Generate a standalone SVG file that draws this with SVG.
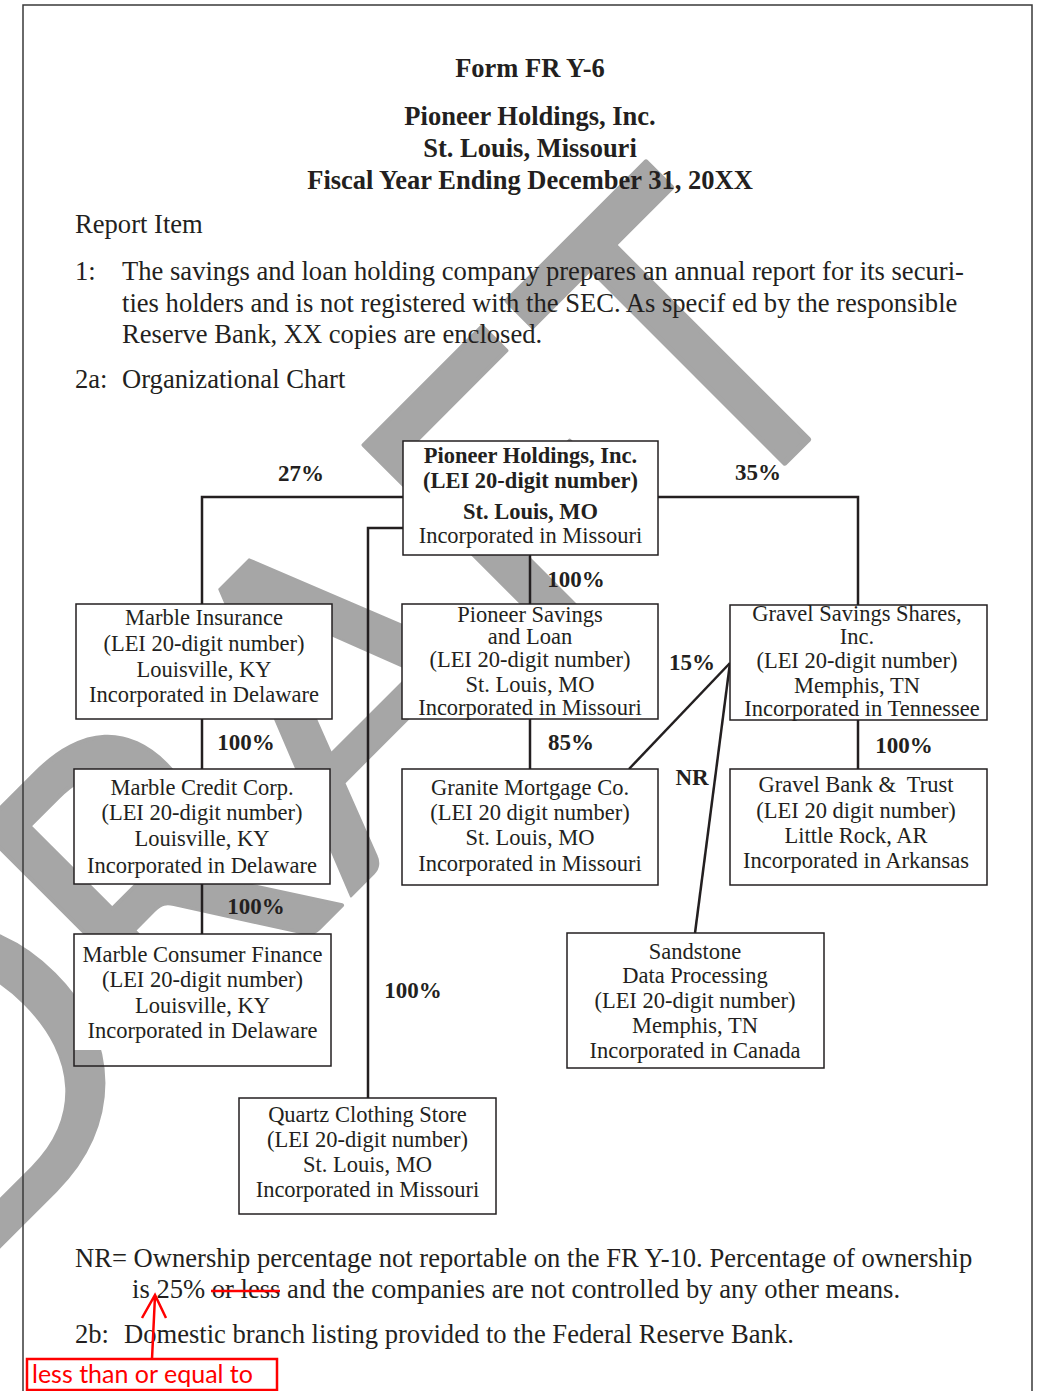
<svg xmlns="http://www.w3.org/2000/svg" width="1037" height="1391" viewBox="0 0 1037 1391">
<style>
.t{font-family:"Liberation Serif","Times New Roman",serif;fill:#231f20}
.h{font-size:26.5px;font-weight:bold;text-anchor:middle}
.b{font-size:26.6px}
.n{font-size:22.5px;text-anchor:middle}
.nb{font-weight:bold}
.lab{font-size:23px;font-weight:bold;text-anchor:middle}
.box{fill:#fff;stroke:#231f20;stroke-width:1.5}
.con{fill:none;stroke:#231f20;stroke-width:2.5}
.red{fill:none;stroke:#ff0000;stroke-width:2.5}
.wm{font-family:Lato,"Open Sans",sans-serif;font-size:433px;fill:#a6a6a6;stroke:#a6a6a6;stroke-width:2;stroke-linejoin:round}
</style>
<rect width="1037" height="1391" fill="#fff"/>
<g id="watermark">
<text class="wm" transform="rotate(-45)"><tspan x="-958" y="882">D</tspan><tspan x="-387" y="882">A</tspan></text>
<text class="wm" transform="rotate(-45) translate(-581,0) scale(0.88,1) translate(581,0)" style="stroke-width:4px"><tspan x="-642" y="882">R</tspan></text>
<text class="wm" transform="rotate(-45) translate(-39,0) scale(0.88,1) translate(39,0)" style="stroke-width:4px"><tspan x="-100" y="882">F</tspan></text>
<text class="wm" transform="rotate(-45) translate(245,0) scale(0.81,1) translate(-245,0)" style="stroke-width:6px"><tspan x="116" y="882">T</tspan></text>
</g>
<path id="frame" d="M23,1391 V5 H1032 V1391" fill="none" stroke="#3a3a3a" stroke-width="1.5"/>
<g id="header" class="t">
<text class="h" x="530" y="77">Form FR Y-6</text>
<text class="h" x="530" y="125">Pioneer Holdings, Inc.</text>
<text class="h" x="530" y="157">St. Louis, Missouri</text>
<text class="h" x="530" y="189">Fiscal Year Ending December 31, 20XX</text>
<text class="b" x="75" y="233">Report Item</text>
<text class="b" x="75" y="280">1:</text>
<text class="b" x="122" y="280">The savings and loan holding company prepares an annual report for its securi-</text>
<text class="b" x="122" y="312">ties holders and is not registered with the SEC. As specif ed by the responsible</text>
<text class="b" x="122" y="343">Reserve Bank, XX copies are enclosed.</text>
<text class="b" x="75" y="388">2a:</text>
<text class="b" x="122" y="388">Organizational Chart</text>
</g>
<g id="connectors" class="con">
<path d="M403,497 H202 V604"/>
<path d="M658,497 H858 V605"/>
<path d="M403,528 H368 V1098"/>
<path d="M530,555 V604"/>
<path d="M530,719 V769"/>
<path d="M202,719 V769"/>
<path d="M202,884 V934"/>
<path d="M858,720 V769"/>
<path d="M730,663 L629,769"/>
<path d="M730,663 L695,933"/>
</g>
<g id="labels" class="t lab">
<text x="301" y="481">27%</text>
<text x="758" y="480">35%</text>
<text x="576" y="587">100%</text>
<text x="246" y="750">100%</text>
<text x="256" y="914">100%</text>
<text x="413" y="998">100%</text>
<text x="571" y="750">85%</text>
<text x="692" y="670">15%</text>
<text x="692" y="785">NR</text>
<text x="904" y="753">100%</text>
</g>
<g id="n-pioneer-holdings">
<rect class="box" x="403" y="441" width="255" height="114"/>
<g class="t n"><text class="nb" x="530.5" y="463">Pioneer Holdings, Inc.</text><text class="nb" x="530.5" y="488">(LEI 20-digit number)</text><text class="nb" x="530.5" y="519">St. Louis, MO</text><text x="530.5" y="543">Incorporated in Missouri</text></g>
</g>
<g id="n-marble-insurance">
<rect class="box" x="76" y="604" width="256" height="115"/>
<g class="t n"><text x="204" y="625">Marble Insurance</text><text x="204" y="651">(LEI 20-digit number)</text><text x="204" y="676.5">Louisville, KY</text><text x="204" y="701.5">Incorporated in Delaware</text></g>
</g>
<g id="n-marble-credit">
<rect class="box" x="74" y="769" width="256" height="115"/>
<g class="t n"><text x="202" y="795">Marble Credit Corp.</text><text x="202" y="820">(LEI 20-digit number)</text><text x="202" y="845.5">Louisville, KY</text><text x="202" y="873">Incorporated in Delaware</text></g>
</g>
<g id="n-marble-consumer">
<rect x="74" y="934" width="257" height="116" fill="#fff"/>
<rect x="74" y="934" width="257" height="132" fill="none" stroke="#231f20" stroke-width="1.5"/>
<g class="t n"><text x="202.5" y="962">Marble Consumer Finance</text><text x="202.5" y="987">(LEI 20-digit number)</text><text x="202.5" y="1012.5">Louisville, KY</text><text x="202.5" y="1037.5">Incorporated in Delaware</text></g>
</g>
<g id="n-pioneer-savings">
<rect class="box" x="402" y="604" width="256" height="115"/>
<g class="t n"><text x="530" y="621.5">Pioneer Savings</text><text x="530" y="644">and Loan</text><text x="530" y="667">(LEI 20-digit number)</text><text x="530" y="691.5">St. Louis, MO</text><text x="530" y="715">Incorporated in Missouri</text></g>
</g>
<g id="n-granite">
<rect class="box" x="402" y="769" width="256" height="116"/>
<g class="t n"><text x="530" y="795">Granite Mortgage Co.</text><text x="530" y="819.5">(LEI 20 digit number)</text><text x="530" y="845">St. Louis, MO</text><text x="530" y="871">Incorporated in Missouri</text></g>
</g>
<g id="n-gravel-savings">
<rect class="box" x="730" y="605" width="257" height="115"/>
<g class="t n"><text x="857" y="621">Gravel Savings Shares,</text><text x="857" y="644">Inc.</text><text x="857" y="668">(LEI 20-digit number)</text><text x="857" y="692.5">Memphis, TN</text><text x="862" y="715.5">Incorporated in Tennessee</text></g>
</g>
<g id="n-gravel-bank">
<rect class="box" x="730" y="769" width="257" height="116"/>
<g class="t n"><text x="856" y="792" style="white-space:pre">Gravel Bank &amp;  Trust</text><text x="856" y="818">(LEI 20 digit number)</text><text x="856" y="843">Little Rock, AR</text><text x="856" y="868">Incorporated in Arkansas</text></g>
</g>
<g id="n-sandstone">
<rect class="box" x="567" y="933" width="257" height="135"/>
<g class="t n"><text x="695" y="959">Sandstone</text><text x="695" y="983">Data Processing</text><text x="695" y="1008">(LEI 20-digit number)</text><text x="695" y="1033">Memphis, TN</text><text x="695" y="1058">Incorporated in Canada</text></g>
</g>
<g id="n-quartz">
<rect class="box" x="239" y="1098" width="257" height="116"/>
<g class="t n"><text x="367.5" y="1122">Quartz Clothing Store</text><text x="367.5" y="1147">(LEI 20-digit number)</text><text x="367.5" y="1172">St. Louis, MO</text><text x="367.5" y="1197">Incorporated in Missouri</text></g>
</g>
<g id="footer" class="t b">
<text x="75" y="1267">NR= Ownership percentage not reportable on the FR Y-10. Percentage of ownership</text>
<text x="132" y="1298">is 25% or less and the companies are not controlled by any other means.</text>
<text x="75" y="1343">2b:</text>
<text x="124" y="1343">Domestic branch listing provided to the Federal Reserve Bank.</text>
</g>
<g id="annotation">
<path class="red" d="M211,1291 H280"/>
<path class="red" stroke-width="2" d="M152,1359 L155,1296 M142,1318 L155,1295 L166,1318"/>
<rect class="red" x="27" y="1359" width="250" height="31"/>
<text x="32" y="1383" font-family="Lato, 'Open Sans', sans-serif" font-size="25" fill="#ff0000">less than or equal to</text>
</g>
</svg>
